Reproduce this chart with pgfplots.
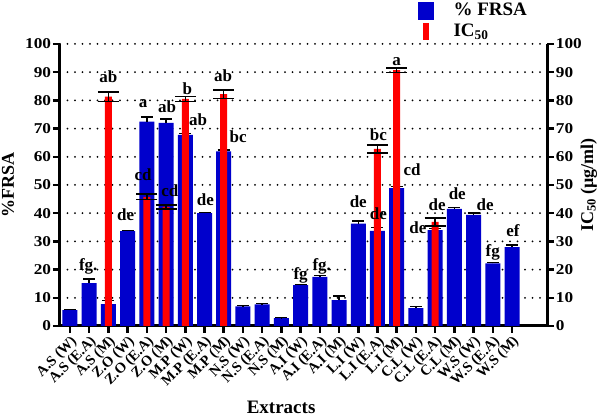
\documentclass[border=0pt]{standalone}
\usepackage{fontspec}
\setmainfont{Liberation Serif}
\usepackage{pgfplots}
\usepackage{pgfplotstable}
\pgfplotsset{compat=1.18}
\definecolor{barblue}{RGB}{0,0,204}
\definecolor{barred}{RGB}{255,0,0}

\pgfplotstableread{
x y e
0 5.6 0.3
1 15.2 1.5
2 7.8 1.3
3 33.6 0.3
4 72.5 1.6
5 72.0 1.4
6 67.8 0.5
7 40.0 0.3
8 61.9 0.5
9 7.0 0.2
10 7.7 0.2
11 2.8 0.2
12 14.5 0.3
13 17.4 0.5
14 9.2 1.4
15 36.3 1.0
16 33.7 1.2
17 48.9 0.5
18 6.3 0.6
19 34.0 0.5
20 41.5 0.6
21 39.4 0.6
22 22.2 0.4
23 28.0 0.8
}\frsa

\pgfplotstableread{
x y e
2 81.3 1.7
4 45.8 1.0
5 42.2 0.7
6 80.5 0.9
8 82.2 1.5
16 62.8 1.4
17 90.7 0.8
19 36.9 1.4
}\icfifty

\pgfplotstableread{
x y t
0.95 21.0 fg.
2.0 88.3 ab
2.9 39.5 de
3.8 79.0 a
3.8 53.5 cd
5.05 77.7 ab
5.2 48.0 cd
6.1 84.0 b
6.67 73.0 ab
7.05 44.7 de
7.97 88.6 ab
8.75 67.0 bc
12.0 18.1 fg
13.1 21.0 fg.
15.0 44.0 de
16.05 40.0 de
16.05 67.7 bc
17.0 93.6 a
17.8 55.3 cd
18.1 35.0 de
19.1 43.0 de
20.15 47.0 de
21.6 43.0 de
22.0 26.2 fg
23.05 33.7 ef
}\sigletters

\pgfplotsset{
  common/.style={
    scale only axis, width=487pt, height=282pt,
    at={(60pt,91pt)}, anchor=south west,
    xmin=-0.52, xmax=24.82, ymin=0, ymax=100,
    ytick={0,10,...,100},
    /pgf/number format/assume math mode=true,
    tick align=outside,
    major tick length=7pt,
    axis line style={line width=3pt, black},
    tick style={line width=2.5pt, black},
    tick label style={font=\fontsize{15}{15}\selectfont\bfseries},
    clip=false,
  },
}

\begin{document}
\begin{tikzpicture}
\begin{axis}[common,
  axis y line*=left, axis x line*=bottom,
  xtick={0,...,23},
  xticklabels={A.S (W), A.S (E.A), A.S (M), Z.O (W), Z.O (E.A), Z.O (M), M.P (W), M.P (E.A), M.P (M), N.S (W), N.S (E.A), N.S (M), A.I (W), A.I (E.A), A.I (M), L.I (W), L.I (E.A), L.I (M), C.L (W), C.L (E.A), C.L (M), W.S (W), W.S (E.A), W.S (M)},
  xticklabel style={rotate=45, anchor=north east, inner sep=1pt, font=\fontsize{14.5}{14.5}\selectfont\bfseries},
  yticklabel style={inner sep=1.5pt, xscale=1.15},
  ymajorgrids,
  grid style={black, line width=2pt, dash pattern=on 0pt off 7.5pt, line cap=round},
  ylabel={\%FRSA},
  ylabel style={at={(axis description cs:-0.107,0.5)}, anchor=center, font=\fontsize{18}{18}\selectfont\bfseries},
  xlabel={Extracts},
  xlabel style={at={(axis description cs:0.454,-0.29)}, anchor=center, font=\fontsize{19}{19}\selectfont\bfseries},
]
\addplot[ybar, bar width=15pt, bar shift=0pt, fill=barblue, draw=none,
  error bars/.cd, y dir=plus, y explicit,
  error bar style={line width=1.5pt, black},
  error mark options={rotate=90, mark size=6pt, line width=1.5pt, black}]
  table[x=x, y=y, y error=e] {\frsa};
\end{axis}
\begin{axis}[common,
  axis y line*=right, axis x line=none,
  yticklabel style={inner sep=1.5pt, xscale=1.15},
  ylabel={IC\textsubscript{50} (µg/ml)},
  ylabel style={at={(axis description cs:1.086,0.5)}, anchor=center, rotate=0, font=\fontsize{18}{18}\selectfont\bfseries},
  legend style={at={(axis description cs:0.735,1.15)}, anchor=north west, draw=none, fill=none,
    font=\fontsize{19}{19}\selectfont\bfseries, inner sep=0pt, row sep=4pt,
    nodes={inner sep=0pt, text height=13pt, text depth=4pt}},
  legend cell align=left,
]
\addlegendimage{legend image code/.code={\fill[barblue] (0pt,-8.5pt) rectangle (15pt,8.5pt);}}
\addlegendentry{\hspace{20pt}\% FRSA}
\addplot[ybar, bar width=7pt, bar shift=0pt, fill=barred, draw=none,
  legend image code/.code={\fill[barred] (5pt,-8.5pt) rectangle (11pt,8.5pt);},
  error bars/.cd, y dir=both, y explicit,
  error bar style={line width=1.5pt, black},
  error mark options={rotate=90, mark size=10.5pt, line width=1.5pt, black}]
  table[x=x, y=y, y error=e] {\icfifty};
\addlegendentry{\hspace{20pt}IC\textsubscript{50}}
\addplot[draw=none, mark=none, nodes near coords, point meta=explicit symbolic,
  every node near coord/.style={anchor=center, inner sep=0pt, black, font=\fontsize{17}{17}\selectfont\bfseries}]
  table[x=x, y=y, meta=t] {\sigletters};
\end{axis}
\pgfresetboundingbox
\path[use as bounding box] (0,0) rectangle (600pt,417pt);
\end{tikzpicture}
\end{document}
